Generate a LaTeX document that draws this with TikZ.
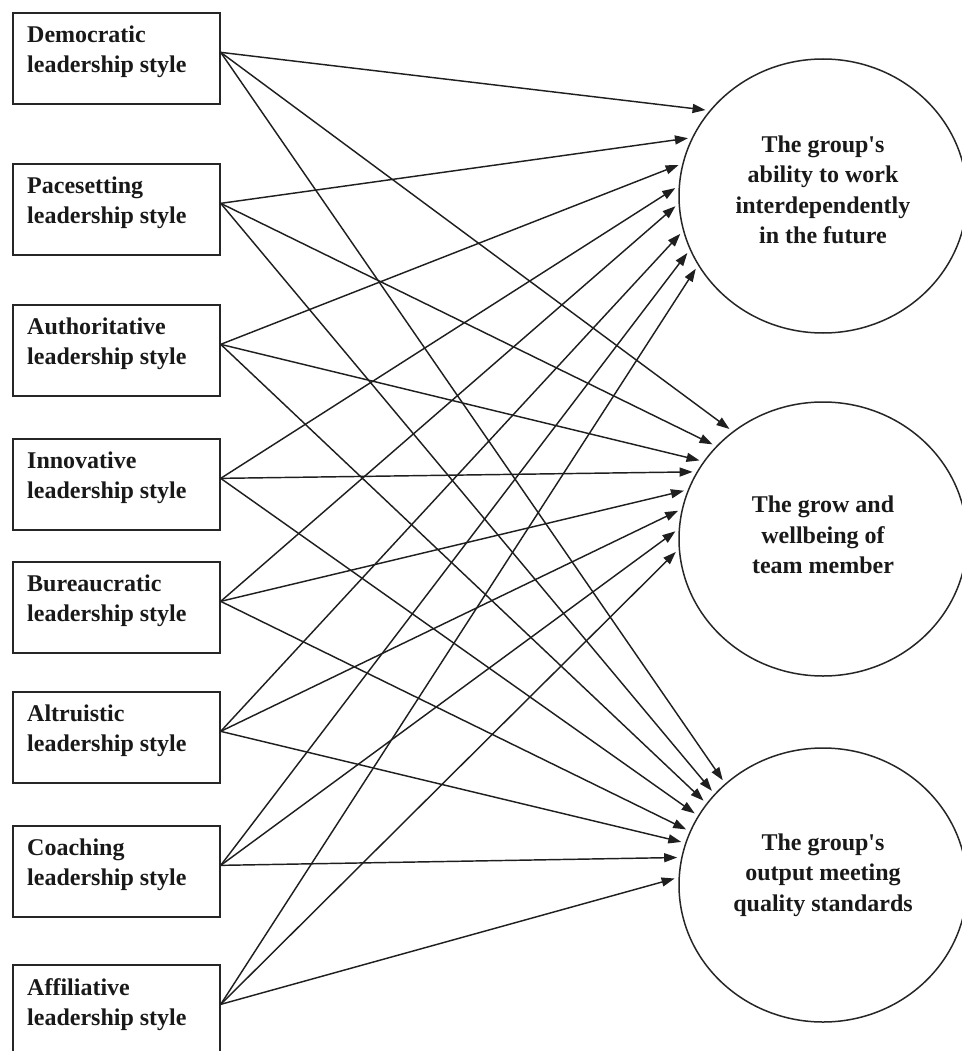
\documentclass[tikz,border=0pt]{standalone}
\usepackage{fontspec}
\setmainfont{Liberation Serif}
\usetikzlibrary{arrows.meta,shapes.geometric}

\begin{document}
\begin{tikzpicture}[x=1pt,y=-1pt,
  box/.style={draw=black!85, line width=1.7pt, minimum width=207pt,
    minimum height=91pt, inner sep=0pt, anchor=north west},
  lbl/.style={anchor=north west, inner sep=0pt, align=left, text=black!90,
    font=\fontsize{24}{30}\selectfont\bfseries},
  outcome/.style={ellipse, draw=black!85, line width=1.5pt,
    minimum width=288pt, minimum height=274pt, inner sep=0pt},
  otext/.style={inner sep=0pt, align=center, text=black!90,
    font=\fontsize{24}{30.5}\selectfont\bfseries},
  link/.style={draw=black!88, line width=1.45pt,
    -{Triangle[length=13pt,width=9pt]}, shorten >=4pt}
]
\useasboundingbox (0,0) rectangle (961,1051);

% leadership styles
\node[box] (dem) at (12,12)  {};
\node[box] (pac) at (12,163) {};
\node[box] (aut) at (12,304) {};
\node[box] (inn) at (12,438) {};
\node[box] (bur) at (12,561) {};
\node[box] (alt) at (12,691) {};
\node[box] (coa) at (12,825) {};
\node[box] (aff) at (12,964) {};

\node[lbl] (demt) at ([shift={(15,14)}]dem.north west) {Democratic\\leadership style};
\node[lbl] (pact) at ([shift={(15,14)}]pac.north west) {Pacesetting\\leadership style};
\node[lbl] (autt) at ([shift={(15,14)}]aut.north west) {Authoritative\\leadership style};
\node[lbl] (innt) at ([shift={(15,14)}]inn.north west) {Innovative\\leadership style};
\node[lbl] (burt) at ([shift={(15,14)}]bur.north west) {Bureaucratic\\leadership style};
\node[lbl] (altt) at ([shift={(15,14)}]alt.north west) {Altruistic\\leadership style};
\node[lbl] (coat) at ([shift={(15,14)}]coa.north west) {Coaching\\leadership style};
\node[lbl] (afft) at ([shift={(15,14)}]aff.north west) {Affiliative\\leadership style};

% outcomes
\node[outcome] (c1) at (823,196) {};
\node[outcome] (c2) at (823,539) {};
\node[outcome] (c3) at (823,885) {};

\node[otext] (c1t) at (823,190) {The group\textquotesingle s\\ability to work\\interdependently\\in the future};
\node[otext] (c2t) at (823,535) {The grow and\\wellbeing of\\team member};
\node[otext] (c3t) at (823,875) {The group\textquotesingle s\\output meeting\\quality standards};

% every style points at every outcome
\foreach \s/\a/\b/\c in {dem/143/130/134, pac/156/139/140, aut/167/147/145,
    inn/176/152/151, bur/183/160/158, alt/194/168/163, coa/202/176/169,
    aff/209/184/177}{
  \draw[link] ([yshift=6pt]\s.east) -- (c1.\a);
  \draw[link] ([yshift=6pt]\s.east) -- (c2.\b);
  \draw[link] ([yshift=6pt]\s.east) -- (c3.\c);
}
\end{tikzpicture}
\end{document}
